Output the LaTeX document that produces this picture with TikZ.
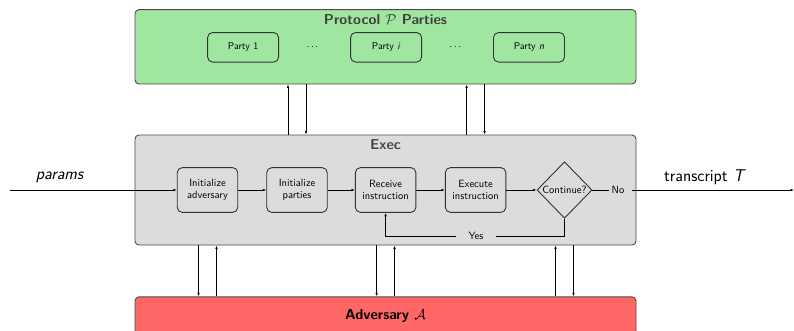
\documentclass[tikz,border=0pt]{standalone}
\usepackage{fontspec}
\usetikzlibrary{shapes.geometric,arrows.meta,calc}
\definecolor{pgreen}{RGB}{160,230,160}
\definecolor{egray}{RGB}{220,220,222}
\definecolor{ared}{RGB}{255,102,102}
\definecolor{edgec}{RGB}{75,75,75}
\tikzset{
 container/.style={draw=edgec, line width=0.9pt, rounded corners=4pt, inner sep=0pt, minimum width=501pt},
 stepbox/.style={draw=black!80, line width=0.9pt, rounded corners=5pt, minimum width=60.5pt, minimum height=44.7pt, align=center, inner sep=0pt, font=\sffamily\fontsize{10.5}{12.5}\selectfont},
 partybox/.style={draw=black!80, line width=0.9pt, rounded corners=5pt, minimum width=71pt, minimum height=29.5pt, inner sep=0pt, font=\sffamily\fontsize{10}{12}\selectfont},
 arr/.style={-{Latex[length=3.5pt,width=2.6pt]}, line width=0.7pt},
 conn/.style={line width=0.7pt},
 titletext/.style={font=\sffamily\bfseries\fontsize{14.4}{17}\selectfont},
 smalltext/.style={font=\sffamily\fontsize{10.5}{12.5}\selectfont, inner sep=2pt},
 bigtext/.style={font=\sffamily\fontsize{17}{20}\selectfont},
}
\begin{document}
\begin{tikzpicture}[x=1pt,y=-1pt]
\useasboundingbox (0,0) rectangle (794,330);
% containers
\node[container, fill=pgreen, minimum height=74.4pt] (prot) at (385.5,46.8) {};
\node[titletext, text=black!75] (ptitle) at (385.5,20) {Protocol $\mathcal{P}$ Parties};
\node[partybox] (p1) at (243.1,47.3) {Party 1};
\node[partybox] (pi) at (386.1,47.3) {Party \textit{i}};
\node[partybox] (pn) at (529,47.3) {Party \textit{n}};
\node[font=\sffamily\fontsize{10}{12}\selectfont] (d1) at (312.4,47) {$\cdots$};
\node[font=\sffamily\fontsize{10}{12}\selectfont] (d2) at (455.3,47) {$\cdots$};

\node[container, fill=egray, minimum height=110pt] (exec) at (385.5,190) {};
\node[titletext, text=black!72] (etitle) at (385.5,144.5) {Exec};

\node[container, fill=ared, minimum height=38pt] (adv) at (385.5,315.8) {};
\node[titletext, text=black] (atitle) at (385.5,315.7) {Adversary $\mathcal{A}$};

% steps
\node[stepbox] (ia) at (207.5,190) {Initialize\\adversary};
\node[stepbox] (ip) at (297,190) {Initialize\\parties};
\node[stepbox] (recv) at (385.6,190) {Receive\\instruction};
\node[stepbox] (ex) at (475.6,190) {Execute\\instruction};
\node[diamond, draw=black!80, line width=0.9pt, minimum width=55pt, minimum height=56.5pt, inner sep=0pt,
      label={[smalltext]center:Continue?}] (dec) at (564.5,190) {};
\node[smalltext] (no) at (618,190) {No};
\node[smalltext, inner xsep=12pt] (yes) at (476,236) {Yes};

% outside
\coordinate (pin) at (10,190);
\coordinate (pout) at (794,190);
\node[bigtext] (plabel) at (60,177) {\textit{params}};
\node[bigtext] (tlabel) at (705,177) {transcript \textit{T}};

% flow
\draw[arr] (pin) -- (ia.west);
\draw[arr] (ia) -- (ip);
\draw[arr] (ip) -- (recv);
\draw[arr] (recv) -- (ex);
\draw[arr] (ex) -- (dec);
\draw[conn] (dec.east) -- (no.west);
\draw[arr] ($(no.east)+(5,0)$) -- (pout);
\draw[conn] (dec.south) |- (yes.east);
\draw[arr] (yes.west) -| (recv.south);

% top exchanges
\draw[arr] ($(ip.south |- exec.north)+(-9,0)$) -- ($(ip.south |- prot.south)+(-9,0)$);
\draw[arr] ($(ip.south |- prot.south)+(9,0)$) -- ($(ip.south |- exec.north)+(9,0)$);
\draw[arr] ($(ex.south |- exec.north)+(-9,0)$) -- ($(ex.south |- prot.south)+(-9,0)$);
\draw[arr] ($(ex.south |- prot.south)+(9,0)$) -- ($(ex.south |- exec.north)+(9,0)$);

% bottom exchanges
\draw[arr] ($(ia.south |- exec.south)+(-9,0)$) -- ($(ia.south |- adv.north)+(-9,0)$);
\draw[arr] ($(ia.south |- adv.north)+(9,0)$) -- ($(ia.south |- exec.south)+(9,0)$);
\draw[arr] ($(recv.south |- exec.south)+(-9,0)$) -- ($(recv.south |- adv.north)+(-9,0)$);
\draw[arr] ($(recv.south |- adv.north)+(9,0)$) -- ($(recv.south |- exec.south)+(9,0)$);
\draw[arr] ($(dec.south |- adv.north)+(-9,0)$) -- ($(dec.south |- exec.south)+(-9,0)$);
\draw[arr] ($(dec.south |- exec.south)+(9,0)$) -- ($(dec.south |- adv.north)+(9,0)$);
\end{tikzpicture}
\end{document}
